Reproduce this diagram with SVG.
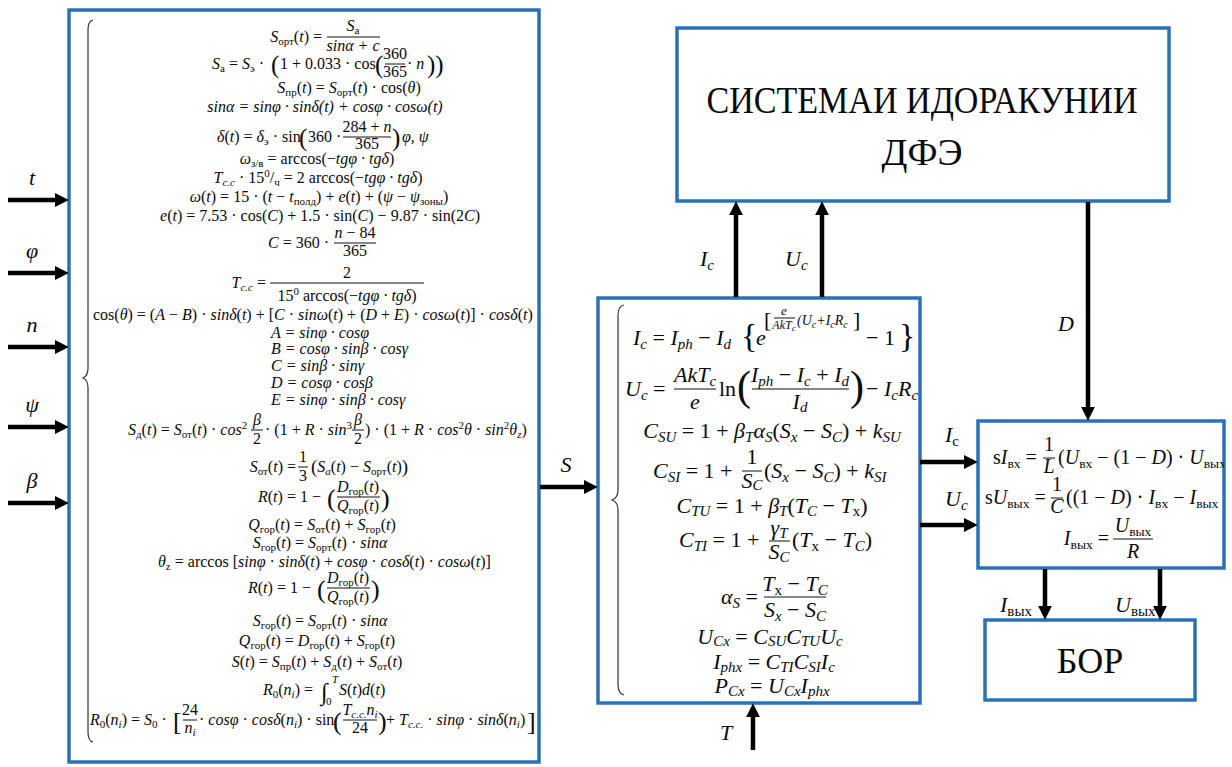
<svg xmlns="http://www.w3.org/2000/svg" width="1232" height="767" viewBox="0 0 1232 767" font-family="'Liberation Serif', 'DejaVu Serif', serif">
<defs>
<style>
text{font-family:'Liberation Serif','DejaVu Serif',serif}
.t{fill:#0a0a0a}
.L{font-size:16px}
.M{font-size:22px}
.R{font-size:20px}
.i{font-style:italic}
.a{font-size:11px}
.b{font-size:15px}
.c{font-size:13.5px}
.fr{stroke:#111;stroke-width:1}
.box{fill:#fff;stroke:#2a72b5;stroke-width:3.5}
.ar{stroke:#000;stroke-width:4.5;fill:none;marker-end:url(#ah)}
.br{fill:none;stroke:#333;stroke-width:1.2}
.lab{font-size:22px;font-style:italic}
</style>
<marker id="ah" viewBox="0 0 10 10" markerUnits="userSpaceOnUse" markerWidth="14" markerHeight="14" refX="3" refY="5" orient="auto"><path d="M0,0 L10,5 L0,10 z" fill="#000"/></marker>
<clipPath id="rc"><rect x="978" y="421" width="246" height="147"/></clipPath>
</defs>
<rect width="1232" height="767" fill="#fff"/>

<g id="calc-block">
<rect class="box" x="69" y="10" width="470" height="752"/>
<path class="br" d="M93,20 Q88,21 88,30 L88,368 Q88,376 83,378 Q88,380 88,388 L88,732 Q88,741 93,742"/>
<text class="t L" x="322" y="42" text-anchor="end"><tspan class="i">S</tspan><tspan class="a" dy="3">орт</tspan><tspan dy="-3">(</tspan><tspan class="i">t</tspan>) =</text>
<text class="t L" x="353" y="31" text-anchor="middle"><tspan class="i">S</tspan><tspan class="a" dy="3">а</tspan></text>
<line class="fr" x1="327" y1="37" x2="380" y2="37"/>
<text class="t L i" x="353" y="51" text-anchor="middle">sinα + c</text>
<text class="t L" x="212" y="69"><tspan class="i">S</tspan><tspan class="a" dy="3">а</tspan><tspan dy="-3"> = </tspan><tspan class="i">S</tspan><tspan class="a" dy="3">э</tspan><tspan dy="-3"> · </tspan></text>
<text class="t" x="271" y="73" font-size="25">(</text>
<text class="t L" x="280" y="69">1 + 0.033 · cos</text>
<text class="t" x="375" y="73" font-size="25">(</text>
<text class="t L" x="395" y="59" text-anchor="middle">360</text>
<line class="fr" x1="385" y1="64" x2="405" y2="64"/>
<text class="t L" x="395" y="77" text-anchor="middle">365</text>
<text class="t L" x="407" y="69"> · <tspan class="i">n</tspan></text>
<text class="t" x="427" y="73" font-size="25">))</text>
<text class="t L" x="349" y="93" text-anchor="middle"><tspan class="i">S</tspan><tspan class="a" dy="3">пр</tspan><tspan dy="-3">(</tspan><tspan class="i">t</tspan>) = <tspan class="i">S</tspan><tspan class="a" dy="3">орт</tspan><tspan dy="-3">(</tspan><tspan class="i">t</tspan>) · cos(<tspan class="i">θ</tspan>)</text>
<text class="t L i" x="325" y="112" text-anchor="middle">sinα = sinφ · sinδ(t) + cosφ · cosω(t)</text>
<text class="t L" x="217" y="142"><tspan class="i">δ</tspan>(<tspan class="i">t</tspan>) = <tspan class="i">δ</tspan><tspan class="a" dy="3">э</tspan><tspan dy="-3"> · sin</tspan></text>
<text class="t" x="299" y="146" font-size="25">(</text>
<text class="t L" x="308" y="142">360 · </text>
<text class="t L" x="367" y="132" text-anchor="middle">284 + <tspan class="i">n</tspan></text>
<line class="fr" x1="343" y1="137" x2="391" y2="137"/>
<text class="t L" x="367" y="149" text-anchor="middle">365</text>
<text class="t" x="392" y="146" font-size="25">)</text>
<text class="t L i" x="402" y="142">φ, ψ</text>
<text class="t L" x="317" y="164" text-anchor="middle"><tspan class="i">ω</tspan><tspan class="a" dy="3">з/в</tspan><tspan dy="-3"> = arccos(−</tspan><tspan class="i">tgφ · tgδ</tspan>)</text>
<text class="t L" x="318" y="183" text-anchor="middle"><tspan class="i">T</tspan><tspan class="a i" dy="3">c.c</tspan><tspan dy="-3"> · 15</tspan><tspan class="a" dy="-6">0</tspan><tspan dy="6">/</tspan><tspan class="a" dy="3">ч</tspan><tspan dy="-3"> = 2 arccos(−</tspan><tspan class="i">tgφ · tgδ</tspan>)</text>
<text class="t L" x="319" y="202" text-anchor="middle"><tspan class="i">ω</tspan>(<tspan class="i">t</tspan>) = 15 · (<tspan class="i">t</tspan> − <tspan class="i">t</tspan><tspan class="a" dy="3">полд</tspan><tspan dy="-3">) + </tspan><tspan class="i">e</tspan>(<tspan class="i">t</tspan>) + (<tspan class="i">ψ</tspan> − <tspan class="i">ψ</tspan><tspan class="a" dy="3">зоны</tspan><tspan dy="-3">)</tspan></text>
<text class="t L" x="320" y="221" text-anchor="middle"><tspan class="i">e</tspan>(<tspan class="i">t</tspan>) = 7.53 · cos(<tspan class="i">C</tspan>) + 1.5 · sin(<tspan class="i">C</tspan>) − 9.87 · sin(2<tspan class="i">C</tspan>)</text>
<text class="t L" x="268" y="248"><tspan class="i">C</tspan> = 360 · </text>
<text class="t L" x="355" y="238" text-anchor="middle"><tspan class="i">n</tspan> − 84</text>
<line class="fr" x1="334" y1="243" x2="376" y2="243"/>
<text class="t L" x="355" y="256" text-anchor="middle">365</text>
<text class="t L" x="266" y="288" text-anchor="end"><tspan class="i">T</tspan><tspan class="a i" dy="3">c.c</tspan><tspan dy="-3"> =</tspan></text>
<text class="t L" x="347" y="278" text-anchor="middle">2</text>
<line class="fr" x1="270" y1="283" x2="424" y2="283"/>
<text class="t L" x="347" y="301" text-anchor="middle">15<tspan class="a" dy="-6">0</tspan><tspan dy="6"> arccos(−</tspan><tspan class="i">tgφ · tgδ</tspan>)</text>
<text class="t L" x="93" y="320">cos(<tspan class="i">θ</tspan>) = (<tspan class="i">A</tspan> − <tspan class="i">B</tspan>) · <tspan class="i">sinδ</tspan>(<tspan class="i">t</tspan>) + [<tspan class="i">C</tspan> · <tspan class="i">sinω</tspan>(<tspan class="i">t</tspan>) + (<tspan class="i">D</tspan> + <tspan class="i">E</tspan>) · <tspan class="i">cosω</tspan>(<tspan class="i">t</tspan>)] · <tspan class="i">cosδ</tspan>(<tspan class="i">t</tspan>)</text>
<text class="t L i" x="271" y="338">A = sinφ · cosφ</text>
<text class="t L i" x="271" y="354">B = cosφ · sinβ · cosγ</text>
<text class="t L i" x="271" y="371">C = sinβ · sinγ</text>
<text class="t L i" x="271" y="388">D = cosφ · cosβ</text>
<text class="t L i" x="271" y="405">E = sinφ · sinβ · cosγ</text>
<text class="t L" x="128" y="435"><tspan class="i">S</tspan><tspan class="a" dy="3">д</tspan><tspan dy="-3">(</tspan><tspan class="i">t</tspan>) = <tspan class="i">S</tspan><tspan class="a" dy="3">от</tspan><tspan dy="-3">(</tspan><tspan class="i">t</tspan>) · <tspan class="i">cos</tspan><tspan class="a" dy="-6">2</tspan></text>
<text class="t L i" x="257" y="425" text-anchor="middle">β</text>
<line class="fr" x1="251" y1="430" x2="263" y2="430"/>
<text class="t L" x="257" y="444" text-anchor="middle">2</text>
<text class="t L" x="265" y="435"> · (1 + <tspan class="i">R</tspan> · <tspan class="i">sin</tspan><tspan class="a" dy="-6">3</tspan></text>
<text class="t L i" x="358" y="425" text-anchor="middle">β</text>
<line class="fr" x1="352" y1="430" x2="364" y2="430"/>
<text class="t L" x="358" y="444" text-anchor="middle">2</text>
<text class="t L" x="365" y="435">) · (1 + <tspan class="i">R</tspan> · <tspan class="i">cos</tspan><tspan class="a" dy="-6">2</tspan><tspan class="i" dy="6">θ</tspan> · <tspan class="i">sin</tspan><tspan class="a" dy="-6">2</tspan><tspan class="i" dy="6">θ</tspan><tspan class="a i" dy="3">z</tspan><tspan dy="-3">)</tspan></text>
<text class="t L" x="296" y="472" text-anchor="end"><tspan class="i">S</tspan><tspan class="a" dy="3">от</tspan><tspan dy="-3">(</tspan><tspan class="i">t</tspan>) =</text>
<text class="t L" x="303" y="462" text-anchor="middle">1</text>
<line class="fr" x1="298" y1="467" x2="308" y2="467"/>
<text class="t L" x="303" y="481" text-anchor="middle">3</text>
<text class="t L" x="311" y="472"><tspan font-size="19" dy="1">(</tspan><tspan class="i" dy="-1">S</tspan><tspan class="a i" dy="3">a</tspan><tspan dy="-3">(</tspan><tspan class="i">t</tspan>) − <tspan class="i">S</tspan><tspan class="a" dy="3">орт</tspan><tspan dy="-3">(</tspan><tspan class="i">t</tspan>)<tspan font-size="19" dy="1">)</tspan></text>
<text class="t L" x="258" y="502"><tspan class="i">R</tspan>(<tspan class="i">t</tspan>) = 1 − </text>
<text class="t" x="327" y="507" font-size="26">(</text>
<text class="t L" x="358" y="492" text-anchor="middle"><tspan class="i">D</tspan><tspan class="a" dy="3">гор</tspan><tspan dy="-3">(</tspan><tspan class="i">t</tspan>)</text>
<line class="fr" x1="337" y1="497" x2="380" y2="497"/>
<text class="t L" x="358" y="511" text-anchor="middle"><tspan class="i">Q</tspan><tspan class="a" dy="3">гор</tspan><tspan dy="-3">(</tspan><tspan class="i">t</tspan>)</text>
<text class="t" x="381" y="507" font-size="26">)</text>
<text class="t L" x="322" y="530" text-anchor="middle"><tspan class="i">Q</tspan><tspan class="a" dy="3">гор</tspan><tspan dy="-3">(</tspan><tspan class="i">t</tspan>) = <tspan class="i">S</tspan><tspan class="a" dy="3">от</tspan><tspan dy="-3">(</tspan><tspan class="i">t</tspan>) + <tspan class="i">S</tspan><tspan class="a" dy="3">гор</tspan><tspan dy="-3">(</tspan><tspan class="i">t</tspan>)</text>
<text class="t L" x="320" y="548" text-anchor="middle"><tspan class="i">S</tspan><tspan class="a" dy="3">гор</tspan><tspan dy="-3">(</tspan><tspan class="i">t</tspan>) = <tspan class="i">S</tspan><tspan class="a" dy="3">орт</tspan><tspan dy="-3">(</tspan><tspan class="i">t</tspan>) · <tspan class="i">sinα</tspan></text>
<text class="t L" x="158" y="567"><tspan class="i">θ</tspan><tspan class="a" dy="3">z</tspan><tspan dy="-3"> = arccos [</tspan><tspan class="i">sinφ</tspan> · <tspan class="i">sinδ</tspan>(<tspan class="i">t</tspan>) + <tspan class="i">cosφ</tspan> · <tspan class="i">cosδ</tspan>(<tspan class="i">t</tspan>) · <tspan class="i">cosω</tspan>(<tspan class="i">t</tspan>)]</text>
<text class="t L" x="248" y="593"><tspan class="i">R</tspan>(<tspan class="i">t</tspan>) = 1 − </text>
<text class="t" x="317" y="598" font-size="26">(</text>
<text class="t L" x="348" y="583" text-anchor="middle"><tspan class="i">D</tspan><tspan class="a" dy="3">гор</tspan><tspan dy="-3">(</tspan><tspan class="i">t</tspan>)</text>
<line class="fr" x1="327" y1="588" x2="370" y2="588"/>
<text class="t L" x="348" y="602" text-anchor="middle"><tspan class="i">Q</tspan><tspan class="a" dy="3">гор</tspan><tspan dy="-3">(</tspan><tspan class="i">t</tspan>)</text>
<text class="t" x="371" y="598" font-size="26">)</text>
<text class="t L" x="320" y="626" text-anchor="middle"><tspan class="i">S</tspan><tspan class="a" dy="3">гор</tspan><tspan dy="-3">(</tspan><tspan class="i">t</tspan>) = <tspan class="i">S</tspan><tspan class="a" dy="3">орт</tspan><tspan dy="-3">(</tspan><tspan class="i">t</tspan>) · <tspan class="i">sinα</tspan></text>
<text class="t L" x="317" y="646" text-anchor="middle"><tspan class="i">Q</tspan><tspan class="a" dy="3">гор</tspan><tspan dy="-3">(</tspan><tspan class="i">t</tspan>) = <tspan class="i">D</tspan><tspan class="a" dy="3">гор</tspan><tspan dy="-3">(</tspan><tspan class="i">t</tspan>) + <tspan class="i">S</tspan><tspan class="a" dy="3">гор</tspan><tspan dy="-3">(</tspan><tspan class="i">t</tspan>)</text>
<text class="t L" x="317" y="667" text-anchor="middle"><tspan class="i">S</tspan>(<tspan class="i">t</tspan>) = <tspan class="i">S</tspan><tspan class="a" dy="3">пр</tspan><tspan dy="-3">(</tspan><tspan class="i">t</tspan>) + <tspan class="i">S</tspan><tspan class="a" dy="3">д</tspan><tspan dy="-3">(</tspan><tspan class="i">t</tspan>) + <tspan class="i">S</tspan><tspan class="a" dy="3">от</tspan><tspan dy="-3">(</tspan><tspan class="i">t</tspan>)</text>
<text class="t L" x="263" y="695"><tspan class="i">R</tspan><tspan class="a" dy="3">0</tspan><tspan dy="-3">(</tspan><tspan class="i">n</tspan><tspan class="a i" dy="3">i</tspan><tspan dy="-3">) =</tspan></text>
<text class="t i" x="321" y="700" font-size="24">∫</text>
<text class="t a i" x="332" y="683">T</text>
<text class="t a" x="326" y="705">0</text>
<text class="t L" x="339" y="695"><tspan class="i">S</tspan>(<tspan class="i">t</tspan>)<tspan class="i">d</tspan>(<tspan class="i">t</tspan>)</text>
<text class="t L" x="90" y="725"><tspan class="i">R</tspan><tspan class="a" dy="3">0</tspan><tspan dy="-3">(</tspan><tspan class="i">n</tspan><tspan class="a i" dy="3">i</tspan><tspan dy="-3">) = </tspan><tspan class="i">S</tspan><tspan class="a" dy="3">0</tspan><tspan dy="-3"> · </tspan></text>
<text class="t" x="173" y="730" font-size="26">[</text>
<text class="t L" x="190" y="715" text-anchor="middle">24</text>
<line class="fr" x1="183" y1="720" x2="197" y2="720"/>
<text class="t L" x="190" y="733" text-anchor="middle"><tspan class="i">n</tspan><tspan class="a i" dy="3">i</tspan></text>
<text class="t L" x="199" y="725"> · <tspan class="i">cosφ</tspan> · <tspan class="i">cosδ</tspan>(<tspan class="i">n</tspan><tspan class="a i" dy="3">i</tspan><tspan dy="-3">) · sin</tspan></text>
<text class="t" x="333" y="730" font-size="26">(</text>
<text class="t L" x="360" y="715" text-anchor="middle"><tspan class="i">T</tspan><tspan class="a i" dy="3">c.c.</tspan><tspan class="i" dy="-3">n</tspan><tspan class="a i" dy="3">i</tspan></text>
<line class="fr" x1="343" y1="720" x2="377" y2="720"/>
<text class="t L" x="360" y="733" text-anchor="middle">24</text>
<text class="t" x="378" y="730" font-size="26">)</text>
<text class="t L" x="386" y="725"> + <tspan class="i">T</tspan><tspan class="a i" dy="3">c.c.</tspan><tspan dy="-3"> · </tspan><tspan class="i">sinφ</tspan> · <tspan class="i">sinδ</tspan>(<tspan class="i">n</tspan><tspan class="a i" dy="3">i</tspan><tspan dy="-3">)</tspan></text>
<text class="t" x="527" y="730" font-size="26">]</text>
</g>

<g id="control-system">
<rect class="box" x="677" y="28" width="492" height="173"/>
<text class="t" x="922" y="113" font-size="38" text-anchor="middle" textLength="431" lengthAdjust="spacingAndGlyphs">СИСТЕМАИ ИДОРАКУНИИ</text>
<text class="t" x="922" y="165" font-size="38" text-anchor="middle">ДФЭ</text>
</g>

<g id="pv-model">
<rect class="box" x="598" y="298" width="322" height="405"/>
<path class="br" d="M624,305 Q618,306 618,316 L618,490 Q618,498 612,500 Q618,502 618,510 L618,684 Q618,694 624,695"/>
<text class="t M" x="633" y="345"><tspan class="i">I</tspan><tspan class="b i" dy="4">c</tspan><tspan dy="-4"> = </tspan><tspan class="i">I</tspan><tspan class="b i" dy="4">ph</tspan><tspan dy="-4"> − </tspan><tspan class="i">I</tspan><tspan class="b i" dy="4">d</tspan></text>
<text class="t" x="741" y="347" font-size="34">{</text>
<text class="t M i" x="756" y="345">e</text>
<text class="t" x="764" y="327" font-size="22">[</text>
<text class="t i" x="784" y="315" font-size="13" text-anchor="middle">e</text>
<line class="fr" x1="774" y1="318" x2="795" y2="318"/>
<text class="t i" x="784" y="329" font-size="12" text-anchor="middle">AkT<tspan font-size="9" dy="2">c</tspan></text>
<text class="t i" x="797" y="325" font-size="14">(U<tspan font-size="10" dy="3">c</tspan><tspan dy="-3">+I</tspan><tspan font-size="10" dy="3">c</tspan><tspan dy="-3">R</tspan><tspan font-size="10" dy="3">c</tspan></text>
<text class="t" x="853" y="327" font-size="22">]</text>
<text class="t M" x="866" y="345">− 1</text>
<text class="t" x="899" y="347" font-size="34">}</text>
<text class="t M" x="625" y="396"><tspan class="i">U</tspan><tspan class="b i" dy="4">c</tspan><tspan dy="-4"> =</tspan></text>
<text class="t M i" x="695" y="382" text-anchor="middle">AkT<tspan class="b" dy="4">c</tspan></text>
<line class="fr" x1="674" y1="389" x2="716" y2="389"/>
<text class="t M i" x="695" y="409" text-anchor="middle">e</text>
<text class="t M" x="719" y="396">ln</text>
<text class="t" x="737" y="400" font-size="42">(</text>
<text class="t M" x="800" y="382" text-anchor="middle"><tspan class="i">I</tspan><tspan class="b i" dy="4">ph</tspan><tspan dy="-4"> − </tspan><tspan class="i">I</tspan><tspan class="b i" dy="4">c</tspan><tspan dy="-4"> + </tspan><tspan class="i">I</tspan><tspan class="b i" dy="4">d</tspan></text>
<line class="fr" x1="752" y1="389" x2="849" y2="389"/>
<text class="t M" x="800" y="409" text-anchor="middle"><tspan class="i">I</tspan><tspan class="b i" dy="3">d</tspan></text>
<text class="t" x="850" y="400" font-size="42">)</text>
<text class="t M" x="866" y="396">− <tspan class="i">I</tspan><tspan class="b i" dy="4">c</tspan><tspan class="i" dy="-4">R</tspan><tspan class="b i" dy="4">c</tspan></text>
<text class="t M" x="772" y="438" text-anchor="middle"><tspan class="i">C</tspan><tspan class="b i" dy="4">SU</tspan><tspan dy="-4"> = 1 + </tspan><tspan class="i">β</tspan><tspan class="b i" dy="4">T</tspan><tspan class="i" dy="-4">α</tspan><tspan class="b i" dy="4">S</tspan><tspan dy="-4">(</tspan><tspan class="i">S</tspan><tspan class="b i" dy="4">x</tspan><tspan dy="-4"> − </tspan><tspan class="i">S</tspan><tspan class="b i" dy="4">C</tspan><tspan dy="-4">) + </tspan><tspan class="i">k</tspan><tspan class="b i" dy="4">SU</tspan></text>
<text class="t M" x="653" y="478"><tspan class="i">C</tspan><tspan class="b i" dy="4">SI</tspan><tspan dy="-4"> = 1 + </tspan></text>
<text class="t M" x="752" y="464" text-anchor="middle">1</text>
<line class="fr" x1="742" y1="471" x2="762" y2="471"/>
<text class="t M" x="752" y="488" text-anchor="middle"><tspan class="i">S</tspan><tspan class="b i" dy="2">C</tspan></text>
<text class="t M" x="764" y="478">(<tspan class="i">S</tspan><tspan class="b i" dy="4">x</tspan><tspan dy="-4"> − </tspan><tspan class="i">S</tspan><tspan class="b i" dy="4">C</tspan><tspan dy="-4">) + </tspan><tspan class="i">k</tspan><tspan class="b i" dy="4">SI</tspan></text>
<text class="t M" x="772" y="513" text-anchor="middle"><tspan class="i">C</tspan><tspan class="b i" dy="3">TU</tspan><tspan dy="-3"> = 1 + </tspan><tspan class="i">β</tspan><tspan class="b i" dy="3">T</tspan><tspan dy="-3">(</tspan><tspan class="i">T</tspan><tspan class="b i" dy="3">C</tspan><tspan dy="-3"> − </tspan><tspan class="i">T</tspan><tspan class="b" dy="3">x</tspan><tspan dy="-3">)</tspan></text>
<text class="t M" x="679" y="547"><tspan class="i">C</tspan><tspan class="b i" dy="4">TI</tspan><tspan dy="-4"> = 1 + </tspan></text>
<text class="t M" x="779" y="535" text-anchor="middle"><tspan class="i">γ</tspan><tspan class="b i" dy="3">T</tspan></text>
<line class="fr" x1="769" y1="541" x2="790" y2="541"/>
<text class="t M" x="779" y="559" text-anchor="middle"><tspan class="i">S</tspan><tspan class="b i" dy="3">C</tspan></text>
<text class="t M" x="792" y="547">(<tspan class="i">T</tspan><tspan class="b" dy="4">x</tspan><tspan dy="-4"> − </tspan><tspan class="i">T</tspan><tspan class="b i" dy="4">C</tspan><tspan dy="-4">)</tspan></text>
<text class="t M" x="758" y="604" text-anchor="end"><tspan class="i">α</tspan><tspan class="b i" dy="4">S</tspan><tspan dy="-4"> =</tspan></text>
<text class="t M" x="795" y="591" text-anchor="middle"><tspan class="i">T</tspan><tspan class="b" dy="4">x</tspan><tspan dy="-4"> − </tspan><tspan class="i">T</tspan><tspan class="b i" dy="4">C</tspan></text>
<line class="fr" x1="764" y1="597" x2="826" y2="597"/>
<text class="t M" x="795" y="617" text-anchor="middle"><tspan class="i">S</tspan><tspan class="b i" dy="4">x</tspan><tspan dy="-4"> − </tspan><tspan class="i">S</tspan><tspan class="b i" dy="4">C</tspan></text>
<text class="t M" x="770" y="644" text-anchor="middle"><tspan class="i">U</tspan><tspan class="b i" dy="2">Cx</tspan><tspan dy="-2"> = </tspan><tspan class="i">C</tspan><tspan class="b i" dy="2">SU</tspan><tspan class="i" dy="-2">C</tspan><tspan class="b i" dy="2">TU</tspan><tspan class="i" dy="-2">U</tspan><tspan class="b i" dy="2">c</tspan></text>
<text class="t M" x="774" y="669" text-anchor="middle"><tspan class="i">I</tspan><tspan class="b i" dy="3">phx</tspan><tspan dy="-3"> = </tspan><tspan class="i">C</tspan><tspan class="b i" dy="3">TI</tspan><tspan class="i" dy="-3">C</tspan><tspan class="b i" dy="3">SI</tspan><tspan class="i" dy="-3">I</tspan><tspan class="b i" dy="3">c</tspan></text>
<text class="t M" x="772" y="693" text-anchor="middle"><tspan class="i">P</tspan><tspan class="b i" dy="3">Cx</tspan><tspan dy="-3"> = </tspan><tspan class="i">U</tspan><tspan class="b i" dy="3">Cx</tspan><tspan class="i" dy="-3">I</tspan><tspan class="b i" dy="3">phx</tspan></text>
</g>

<g id="converter">
<rect class="box" x="978" y="421" width="246" height="147"/>
<g clip-path="url(#rc)">
<text class="t R" x="993" y="464">s<tspan class="i">I</tspan><tspan class="c" dy="4">вх</tspan><tspan dy="-4"> =</tspan></text>
<text class="t R" x="1049" y="451" text-anchor="middle">1</text>
<line class="fr" x1="1043" y1="458" x2="1055" y2="458"/>
<text class="t R i" x="1049" y="473" text-anchor="middle">L</text>
<text class="t R" x="1058" y="464">(<tspan class="i">U</tspan><tspan class="c" dy="4">вх</tspan><tspan dy="-4"> − (1 − </tspan><tspan class="i">D</tspan>) · <tspan class="i">U</tspan><tspan class="c" dy="4">вых</tspan><tspan dy="-4">)</tspan></text>
<text class="t R" x="985" y="504">s<tspan class="i">U</tspan><tspan class="c" dy="4">вых</tspan><tspan dy="-4"> =</tspan></text>
<text class="t R" x="1057" y="491" text-anchor="middle">1</text>
<line class="fr" x1="1051" y1="498" x2="1063" y2="498"/>
<text class="t R i" x="1057" y="513" text-anchor="middle">C</text>
<text class="t R" x="1066" y="504">((1 − <tspan class="i">D</tspan>) · <tspan class="i">I</tspan><tspan class="c" dy="4">вх</tspan><tspan dy="-4"> − </tspan><tspan class="i">I</tspan><tspan class="c" dy="4">вых</tspan></text>
<text class="t R" x="1109" y="545" text-anchor="end"><tspan class="i">I</tspan><tspan class="c" dy="4">вых</tspan><tspan dy="-4"> =</tspan></text>
<text class="t R" x="1133" y="532" text-anchor="middle"><tspan class="i">U</tspan><tspan class="c" dy="4">вых</tspan></text>
<line class="fr" x1="1113" y1="539" x2="1153" y2="539"/>
<text class="t R i" x="1133" y="558" text-anchor="middle">R</text>
</g>
</g>

<g id="bor">
<rect class="box" x="985" y="620" width="210" height="80"/>
<text class="t" x="1090" y="673" font-size="36" text-anchor="middle">БОР</text>
</g>

<g id="connectors">
<line class="ar" x1="8" y1="200" x2="59" y2="200"/>
<line class="ar" x1="8" y1="273" x2="59" y2="273"/>
<line class="ar" x1="8" y1="347" x2="59" y2="347"/>
<line class="ar" x1="8" y1="427" x2="59" y2="427"/>
<line class="ar" x1="8" y1="503" x2="59" y2="503"/>
<line class="ar" x1="540" y1="487" x2="588" y2="487"/>
<line class="ar" x1="736" y1="297" x2="736" y2="211"/>
<line class="ar" x1="822" y1="297" x2="822" y2="211"/>
<line class="ar" x1="1088" y1="202" x2="1088" y2="411"/>
<line class="ar" x1="920" y1="462" x2="968" y2="462"/>
<line class="ar" x1="920" y1="525" x2="968" y2="525"/>
<line class="ar" x1="753" y1="750" x2="753" y2="713"/>
<line class="ar" x1="1045" y1="569" x2="1045" y2="610"/>
<line class="ar" x1="1160" y1="569" x2="1160" y2="610"/>
</g>

<g id="labels">
<text class="t lab" x="32" y="185" text-anchor="middle">t</text>
<text class="t lab" x="32" y="258" text-anchor="middle">φ</text>
<text class="t lab" x="32" y="332" text-anchor="middle">n</text>
<text class="t lab" x="32" y="412" text-anchor="middle">ψ</text>
<text class="t lab" x="32" y="488" text-anchor="middle">β</text>
<text class="t lab" x="566" y="472" text-anchor="middle">S</text>
<text class="t lab" x="700" y="266">I<tspan class="b" dy="4">c</tspan></text>
<text class="t lab" x="785" y="266">U<tspan class="b" dy="4">c</tspan></text>
<text class="t lab" x="1058" y="331">D</text>
<text class="t lab" x="945" y="442">I<tspan class="b" font-style="normal" dy="4">c</tspan></text>
<text class="t lab" x="945" y="506">U<tspan class="b" dy="4">c</tspan></text>
<text class="t lab" x="720" y="740">T</text>
<text class="t lab" x="1000" y="612">I<tspan class="b" font-style="normal" dy="4">вых</tspan></text>
<text class="t lab" x="1115" y="612">U<tspan class="b" font-style="normal" dy="4">вых</tspan></text>
</g>
</svg>
